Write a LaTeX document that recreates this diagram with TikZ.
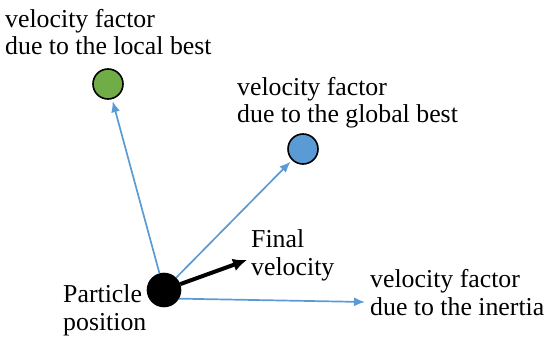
\documentclass[tikz,border=0pt]{standalone}
\usepackage{fontspec}
\setmainfont{Liberation Serif}
\usetikzlibrary{arrows.meta}
\definecolor{vecblue}{HTML}{5B9BD5}
\definecolor{bestgreen}{HTML}{70AD47}

\begin{document}
\begin{tikzpicture}[x=1pt,y=-1pt,
    dot/.style={circle,draw=black,line width=1.6pt,minimum size=30pt,inner sep=0pt},
    vec/.style={vecblue,line width=1.7pt,-{Latex[length=11pt,width=9pt]}},
    lbl/.style={anchor=base west,align=left,inner sep=0pt,
      font=\fontsize{25.8}{27.5}\selectfont}]
              \useasboundingbox (0,0) rectangle (551,339);
              \node[dot,fill=bestgreen] (local) at (108,84) {};
              \node[dot,fill=vecblue] (global) at (303,149) {};
              \node[dot,fill=black,minimum size=33pt] (part) at (164,290) {};
              \coordinate (inert) at (365,302);
              \coordinate (final) at (247,260);
              \draw[vec,shorten >=2pt] (part) -- (local);
              \draw[vec,shorten >=2pt] (part) -- (global);
              \draw[vec] (part.-30) -- (inert);
              \draw[line width=4pt,-{Latex[length=14pt,width=13pt]}] (part) -- (final);
              \node[lbl] (tlocal) at (5,55) {velocity factor\\due to the local best};
              \node[lbl] (tglobal) at (237,123) {velocity factor\\due to the global best};
              \node[lbl] (tfinal) at (251,275) {Final\\velocity};
              \node[lbl] (tpart) at (63,330) {Particle\\position};
              \node[lbl] (tinert) at (370,315) {velocity factor\\due to the inertia};
            \end{tikzpicture}
\end{document}
